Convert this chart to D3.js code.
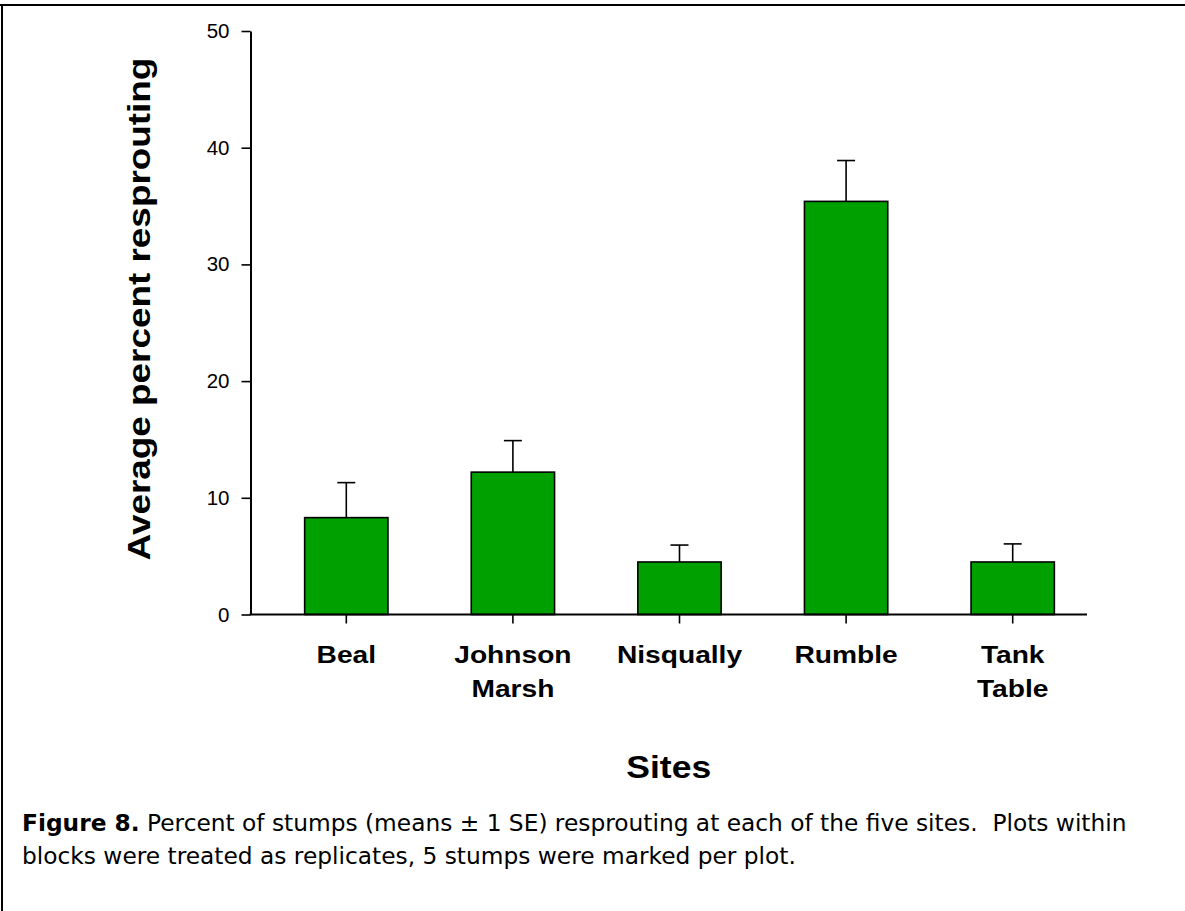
<!DOCTYPE html>
<html>
<head>
<meta charset="utf-8">
<script src="https://cdn.jsdelivr.net/npm/d3@7"></script>
<style>
  html, body { margin: 0; padding: 0; background: #fff; }
  svg { display: block; }
</style>
</head>
<body>
<svg id="chart" width="1185" height="911"></svg>
<script>
const sites = ["Beal", "Johnson Marsh", "Nisqually", "Rumble", "Tank Table"];
const labelLines = [["Beal"], ["Johnson", "Marsh"], ["Nisqually"], ["Rumble"], ["Tank", "Table"]];
const means = [8.3, 12.2, 4.5, 35.4, 4.5];
const upperSE = [11.3, 14.9, 5.95, 38.9, 6.05];
const yTicks = [0, 10, 20, 30, 40, 50];
const yTitle = "Average percent resprouting";
const xTitle = "Sites";
const captionBold = "Figure 8.";
const captionLine1 = " Percent of stumps (means \u00b1 1 SE) resprouting at each of the five sites.  Plots within";
const captionLine2 = "blocks were treated as replicates, 5 stumps were marked per plot.";

const svg = d3.select("#chart");
const sans = "'Liberation Sans', Arial, sans-serif";

// frame (top and left edges)
svg.append("line").attr("x1", 0).attr("x2", 1185).attr("y1", 5).attr("y2", 5)
  .attr("stroke", "#000").attr("stroke-width", 2);
svg.append("line").attr("x1", 2).attr("x2", 2).attr("y1", 4).attr("y2", 911)
  .attr("stroke", "#000").attr("stroke-width", 2);

const axisX0 = 250.5, axisX1 = 1087;
const y = d3.scaleLinear().domain([0, 50]).range([614.5, 31]);
const x = d3.scaleBand().domain(sites).range([263, 1096]).paddingInner(0.5).paddingOuter(0.25);

// bars
svg.append("g").selectAll("rect").data(sites).join("rect")
  .attr("x", d => x(d))
  .attr("width", x.bandwidth())
  .attr("y", (d, i) => y(means[i]))
  .attr("height", (d, i) => y(0) - y(means[i]))
  .attr("fill", "#00a000")
  .attr("stroke", "#000")
  .attr("stroke-width", 1.6);

// error bars (upper only)
const eb = svg.append("g").attr("stroke", "#000").attr("stroke-width", 1.6);
sites.forEach((d, i) => {
  const cx = x(d) + x.bandwidth() / 2;
  eb.append("line").attr("x1", cx).attr("x2", cx).attr("y1", y(means[i])).attr("y2", y(upperSE[i]));
  eb.append("line").attr("x1", cx - 9).attr("x2", cx + 9).attr("y1", y(upperSE[i])).attr("y2", y(upperSE[i]));
});

// y axis
const yAxis = svg.append("g").attr("transform", `translate(${axisX0},0)`)
  .call(d3.axisLeft(y).tickValues(yTicks).tickSize(9).tickPadding(12).tickSizeOuter(0));
yAxis.select(".domain").attr("stroke-width", 2);
yAxis.selectAll(".tick line").attr("stroke-width", 1.6);
yAxis.selectAll(".tick text").attr("font-family", sans).attr("font-size", 20.5).attr("fill", "#000");

// x axis
const xAxis = svg.append("g").attr("transform", `translate(0,${y(0)})`)
  .call(d3.axisBottom(x).tickSize(9).tickFormat(""));
xAxis.select(".domain").remove();
xAxis.selectAll(".tick line").attr("stroke-width", 1.6);
svg.append("line").attr("x1", axisX0 - 1).attr("x2", axisX1).attr("y1", y(0)).attr("y2", y(0))
  .attr("stroke", "#000").attr("stroke-width", 2);

// x category labels
const stretch = 1.15;
sites.forEach((d, i) => {
  const cx = x(d) + x.bandwidth() / 2;
  labelLines[i].forEach((line, j) => {
    svg.append("text")
      .attr("transform", `translate(${cx},${663 + j * 34}) scale(${stretch},1)`)
      .attr("text-anchor", "middle")
      .attr("font-family", sans).attr("font-weight", "bold").attr("font-size", 24.5)
      .text(line);
  });
});

// axis titles
svg.append("text")
  .attr("transform", `translate(150,309) rotate(-90) scale(1.19,1)`)
  .attr("text-anchor", "middle")
  .attr("font-family", sans).attr("font-weight", "bold").attr("font-size", 31)
  .text(yTitle);

svg.append("text")
  .attr("transform", `translate(${(axisX0 + axisX1) / 2},778) scale(1.11,1)`)
  .attr("text-anchor", "middle")
  .attr("font-family", sans).attr("font-weight", "bold").attr("font-size", 32)
  .text(xTitle);

// caption
const capFont = "'DejaVu Sans', Verdana, sans-serif";
const c1 = svg.append("text").attr("x", 22).attr("y", 831)
  .attr("font-family", capFont).attr("font-size", 23.3).attr("fill", "#000")
  .style("white-space", "pre");
c1.append("tspan").attr("font-weight", "bold").text(captionBold);
c1.append("tspan").text(captionLine1);
svg.append("text").attr("x", 22).attr("y", 864)
  .attr("font-family", capFont).attr("font-size", 23.3).attr("fill", "#000")
  .text(captionLine2);
</script>
</body>
</html>
